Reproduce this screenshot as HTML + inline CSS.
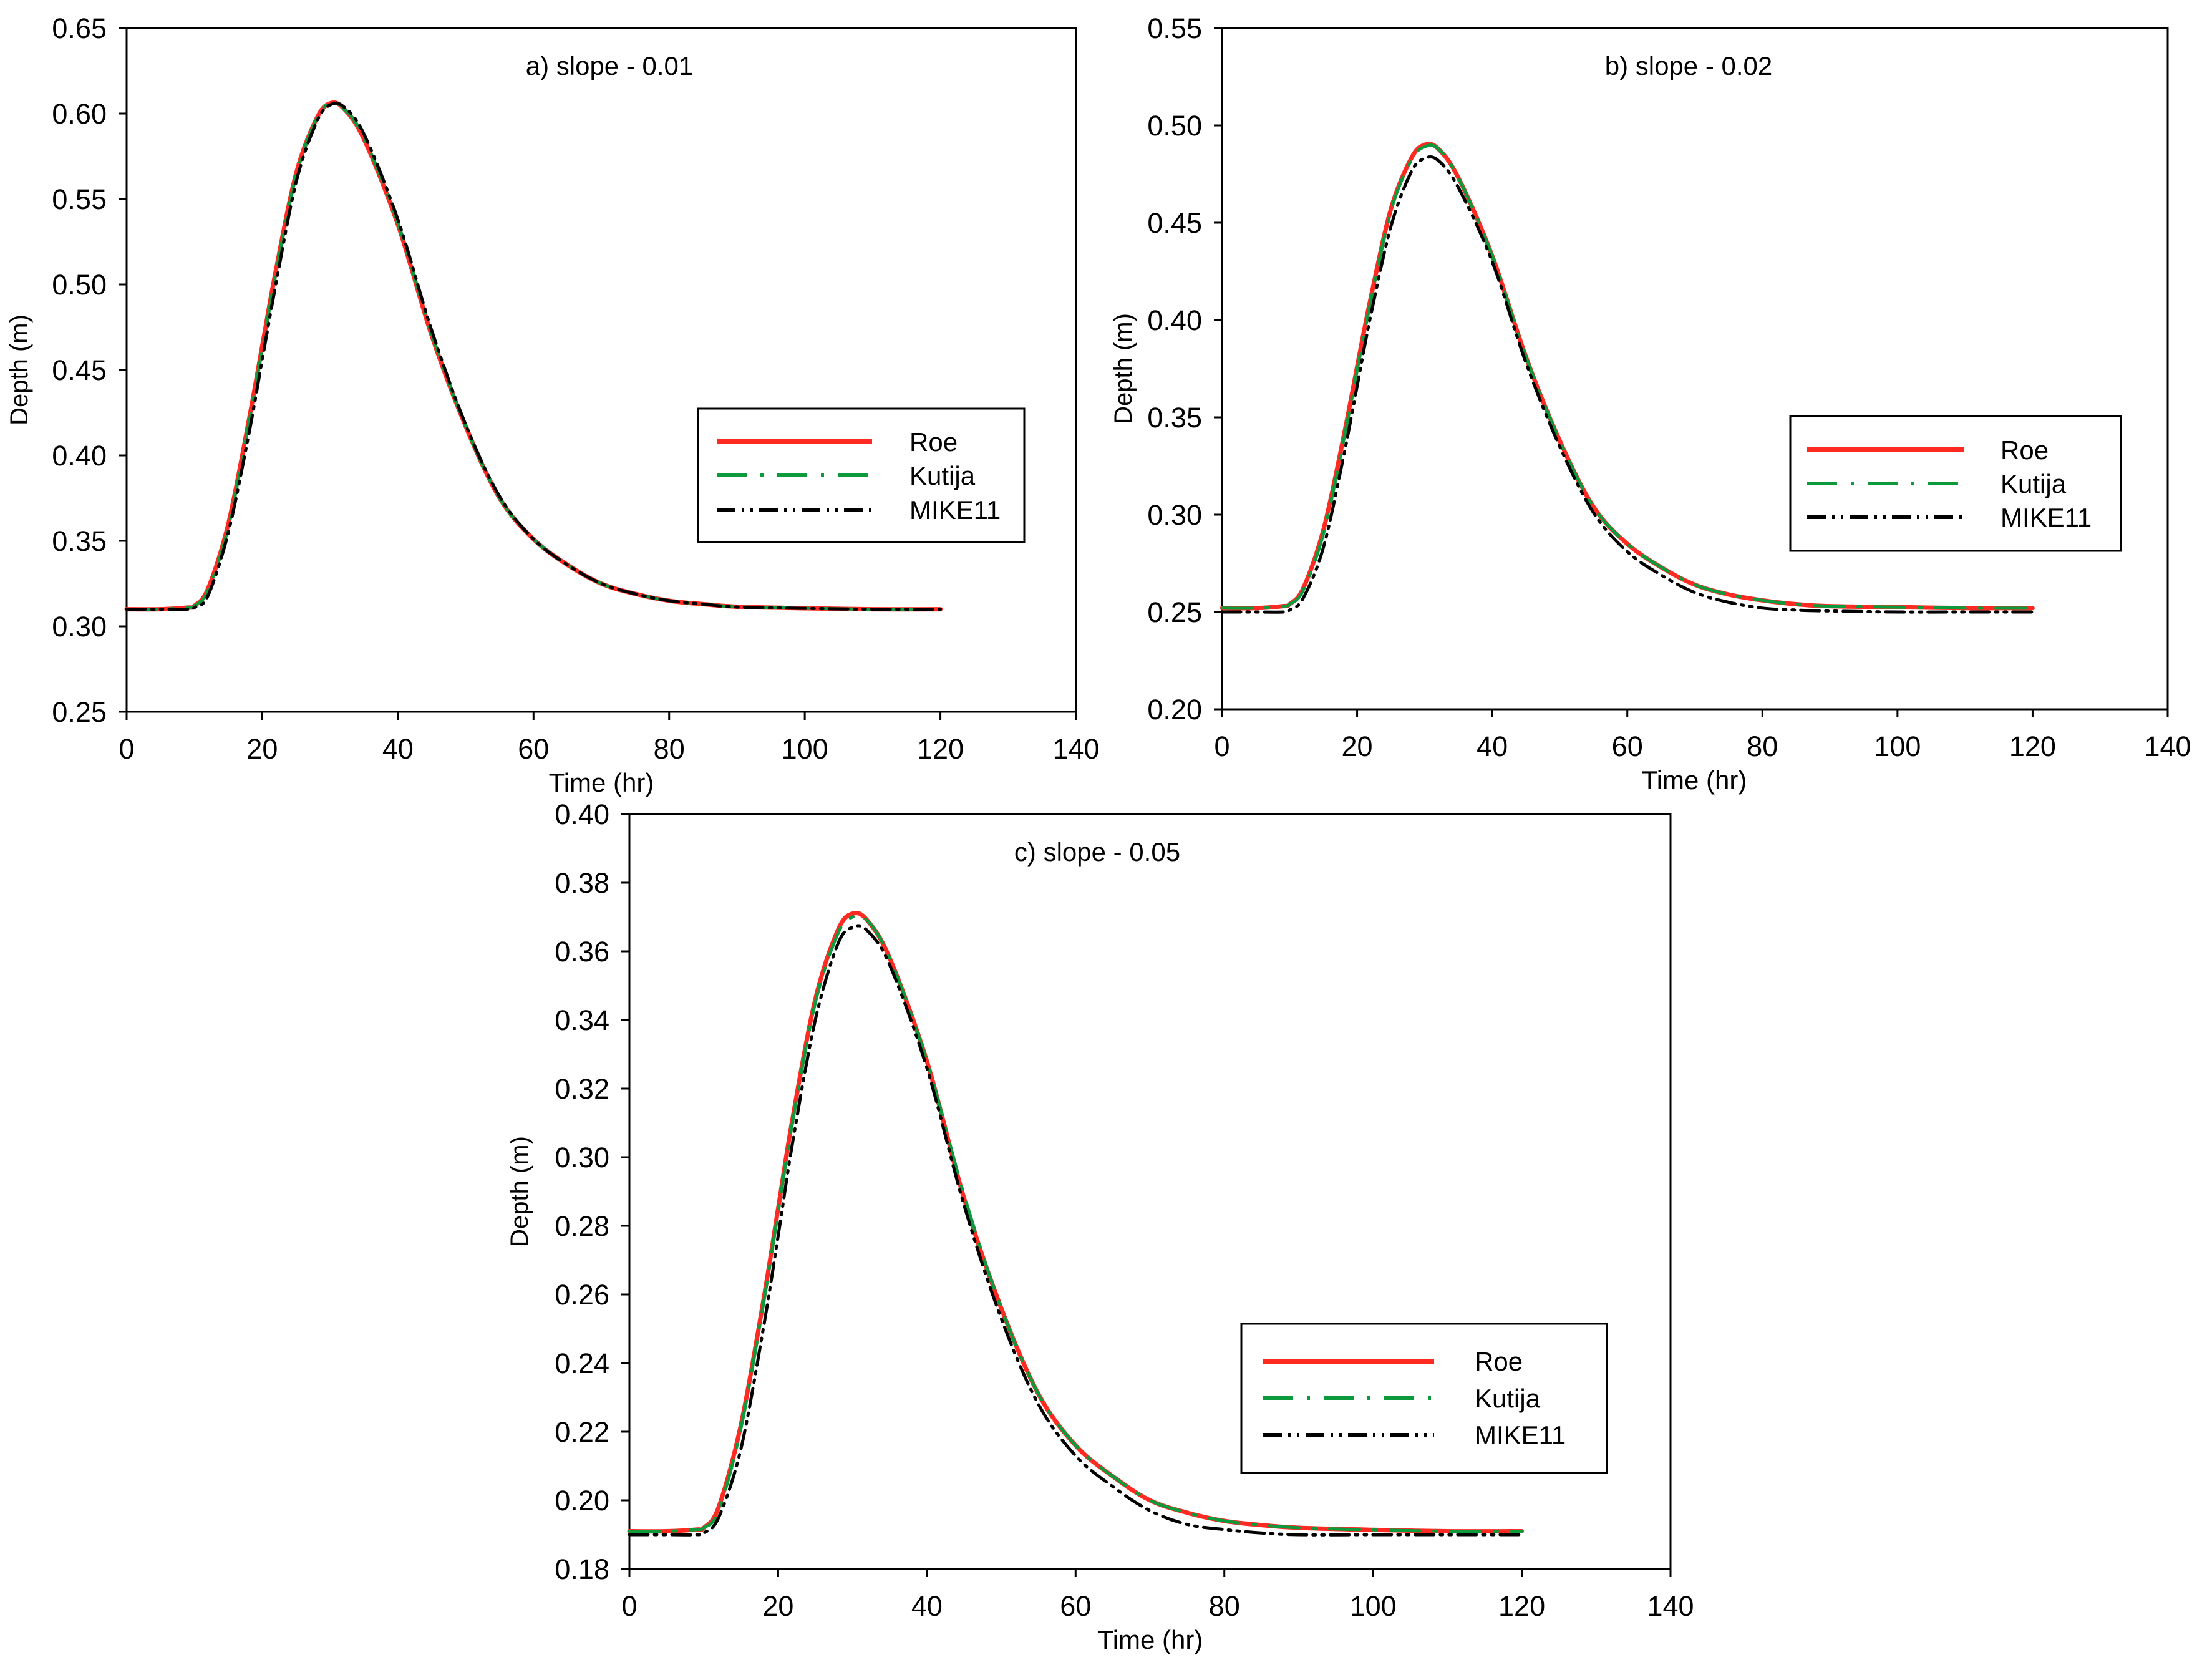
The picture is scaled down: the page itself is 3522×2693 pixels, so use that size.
<!DOCTYPE html>
<html><head><meta charset="utf-8">
<style>
html,body{margin:0;padding:0;background:#fff;}
svg{display:block;}
text{font-family:"Liberation Sans Narrow","Liberation Sans",sans-serif;fill:#000;}
.ax{font-family:"Liberation Sans",sans-serif;}
</style></head>
<body>
<svg id="chart" width="3522" height="2693" viewBox="0 0 3522 2693" xmlns="http://www.w3.org/2000/svg"></svg>
<script>
const times = [0,5,9,10,12,15,18,20,22,25,28,30,32,35,40,45,50,55,60,65,70,75,80,85,90,100,110,120];
const roeA = [0.310,0.310,0.311,0.312,0.322,0.360,0.420,0.464,0.508,0.565,0.597,0.606,0.603,0.585,0.535,0.470,0.417,0.375,0.351,0.336,0.325,0.319,0.315,0.313,0.3115,0.3106,0.310,0.310];
const kutA = [0.310,0.310,0.311,0.312,0.321,0.358,0.418,0.462,0.506,0.564,0.597,0.606,0.603,0.586,0.536,0.471,0.417,0.375,0.351,0.336,0.325,0.319,0.315,0.313,0.3115,0.3106,0.310,0.310];
const mikA = [0.310,0.310,0.310,0.311,0.318,0.355,0.412,0.456,0.500,0.560,0.595,0.605,0.604,0.588,0.538,0.473,0.418,0.376,0.351,0.336,0.325,0.319,0.315,0.313,0.3113,0.3105,0.310,0.310];
const roeB = [0.252,0.252,0.253,0.254,0.262,0.292,0.340,0.376,0.411,0.457,0.483,0.490,0.488,0.473,0.433,0.381,0.338,0.304,0.285,0.273,0.264,0.259,0.256,0.254,0.253,0.2525,0.252,0.252];
const kutB = [0.252,0.252,0.253,0.254,0.261,0.290,0.338,0.374,0.409,0.456,0.482,0.489,0.488,0.473,0.433,0.381,0.338,0.304,0.285,0.273,0.264,0.259,0.256,0.254,0.253,0.2525,0.252,0.252];
const mikB = [0.250,0.250,0.250,0.251,0.257,0.283,0.330,0.366,0.402,0.448,0.476,0.483,0.482,0.468,0.430,0.378,0.335,0.301,0.281,0.269,0.260,0.255,0.252,0.251,0.2505,0.250,0.250,0.250];
const roeC = [0.191,0.191,0.1915,0.192,0.198,0.222,0.258,0.285,0.312,0.346,0.366,0.371,0.369,0.358,0.328,0.288,0.256,0.231,0.216,0.207,0.200,0.1964,0.194,0.1928,0.192,0.1914,0.191,0.191];
const kutC = [0.191,0.191,0.1915,0.192,0.197,0.221,0.257,0.284,0.311,0.345,0.365,0.370,0.369,0.358,0.328,0.289,0.256,0.231,0.216,0.207,0.200,0.1964,0.194,0.1928,0.192,0.1914,0.191,0.191];
const mikC = [0.190,0.190,0.190,0.1905,0.195,0.215,0.250,0.277,0.305,0.340,0.362,0.367,0.366,0.356,0.326,0.286,0.253,0.228,0.213,0.204,0.197,0.193,0.1915,0.1905,0.190,0.190,0.190,0.190];
const xTicks = [0,20,40,60,80,100,120,140];
const yTicksA = [0.25,0.30,0.35,0.40,0.45,0.50,0.55,0.60,0.65];
const yTicksB = [0.20,0.25,0.30,0.35,0.40,0.45,0.50,0.55];
const yTicksC = [0.18,0.20,0.22,0.24,0.26,0.28,0.30,0.32,0.34,0.36,0.38,0.40];
const seriesNames = ["Roe","Kutija","MIKE11"];

const NS="http://www.w3.org/2000/svg";
const svg=document.getElementById('chart');
function mk(tag,attrs,parent){const e=document.createElementNS(NS,tag);for(const k in attrs)e.setAttribute(k,attrs[k]);(parent||svg).appendChild(e);return e;}
const styles=[
 {stroke:"#ff2a22",w:7,dash:"none"},
 {stroke:"#0c9a3c",w:5,dash:"48 22 5 22"},
 {stroke:"#000",w:5,dash:"30 10 4 10 4 10"}
];
function smoothPath(pts){
  let d="M"+pts[0][0].toFixed(1)+","+pts[0][1].toFixed(1);
  for(let i=0;i<pts.length-1;i++){
    const p0=pts[Math.max(0,i-1)],p1=pts[i],p2=pts[i+1],p3=pts[Math.min(pts.length-1,i+2)];
    const c1x=p1[0]+(p2[0]-p0[0])/6,c1y=p1[1]+(p2[1]-p0[1])/6;
    const c2x=p2[0]-(p3[0]-p1[0])/6,c2y=p2[1]-(p3[1]-p1[1])/6;
    d+=" C"+c1x.toFixed(1)+","+c1y.toFixed(1)+" "+c2x.toFixed(1)+","+c2y.toFixed(1)+" "+p2[0].toFixed(1)+","+p2[1].toFixed(1);
  }
  return d;
}
function panel(cfg){
  const g=mk('g',{});
  
  
  const {L,R,T,B,ymin,ymax,yt}=cfg;
  const xs=v=>L+(v-0)/(140-0)*(R-L);
  const ys=v=>B-(v-ymin)/(ymax-ymin)*(B-T);
  const frame=mk('rect',{x:L,y:T,width:R-L,height:B-T,fill:"none",stroke:"#000","stroke-width":3},g);
  
  
  xTicks.forEach(t=>{
    mk('line',{x1:xs(t),x2:xs(t),y1:B,y2:B+13,stroke:"#000","stroke-width":3},g);
    const tx=mk('text',{x:xs(t),y:B+75,"font-size":45,"text-anchor":"middle"},g);
    tx.textContent=t;
    
    
  });
  yt.forEach(t=>{
    mk('line',{x1:L-13,x2:L,y1:ys(t),y2:ys(t),stroke:"#000","stroke-width":3},g);
    const tx=mk('text',{x:L-32,y:ys(t)+16,"font-size":45,"text-anchor":"end"},g);
    tx.textContent=t.toFixed(2);
    
    
  });
  const xt=mk('text',{x:cfg.xtx,y:B+128,"font-size":42,"text-anchor":"middle",class:"ax"},g);
  xt.textContent="Time (hr)";
  
  
  const yl=mk('text',{x:0,y:0,"font-size":40,"text-anchor":"middle",class:"ax",transform:"translate("+(cfg.ytx)+","+((T+B)/2)+") rotate(-90)"},g);
  yl.textContent="Depth (m)";
  
  
  const ti=mk('text',{x:cfg.tx,y:T+75,"font-size":42,"text-anchor":"middle"},g);
  ti.textContent=cfg.title;
  
  
  cfg.series.forEach((s,i)=>{
    const pts=times.map((t,j)=>[xs(t),ys(s[j])]);
    const p=mk('path',{d:smoothPath(pts),fill:"none",stroke:styles[i].stroke,"stroke-width":styles[i].w,"stroke-dasharray":styles[i].dash,"stroke-linejoin":"round","stroke-linecap":"round"},g);
    
    
  });
  const lg=cfg.leg;
  const lgG=mk('g',{},g);
  
  
  mk('rect',{x:lg.x,y:lg.y,width:lg.w,height:lg.h,fill:"#fff",stroke:"#000","stroke-width":3},lgG);
  seriesNames.forEach((n,i)=>{
    const ry=lg.rows[i];
    const ln=mk('line',{x1:lg.l1,x2:lg.l2,y1:ry,y2:ry,stroke:styles[i].stroke,"stroke-width":styles[i].w+1,"stroke-dasharray":styles[i].dash},lgG);
    
    
    const tx=mk('text',{x:lg.tx,y:ry+15,"font-size":42},lgG);
    tx.textContent=n;
    
    
  });
}
panel({name:'panel-a',L:203,R:1725,T:45,B:1141,ymin:0.25,ymax:0.65,yt:yTicksA,xtx:964,ytx:44,tx:977,title:"a) slope - 0.01",
  series:[roeA,kutA,mikA],leg:{x:1119,y:655,w:523,h:214,l1:1149,l2:1398,tx:1458,rows:[708,762,817]}});
panel({name:'panel-b',L:1959,R:3475,T:45,B:1137,ymin:0.20,ymax:0.55,yt:yTicksB,xtx:2716,ytx:1814,tx:2707,title:"b) slope - 0.02",
  series:[roeB,kutB,mikB],leg:{x:2870,y:667,w:530,h:216,l1:2897,l2:3149,tx:3207,rows:[721,775,829]}});
panel({name:'panel-c',L:1009,R:2678,T:1305,B:2515,ymin:0.18,ymax:0.40,yt:yTicksC,xtx:1844,ytx:846,tx:1759,title:"c) slope - 0.05",
  series:[roeC,kutC,mikC],leg:{x:1990,y:2122,w:586,h:239,l1:2025,l2:2299,tx:2364,rows:[2182,2241,2300]}});
</script>
</body></html>
